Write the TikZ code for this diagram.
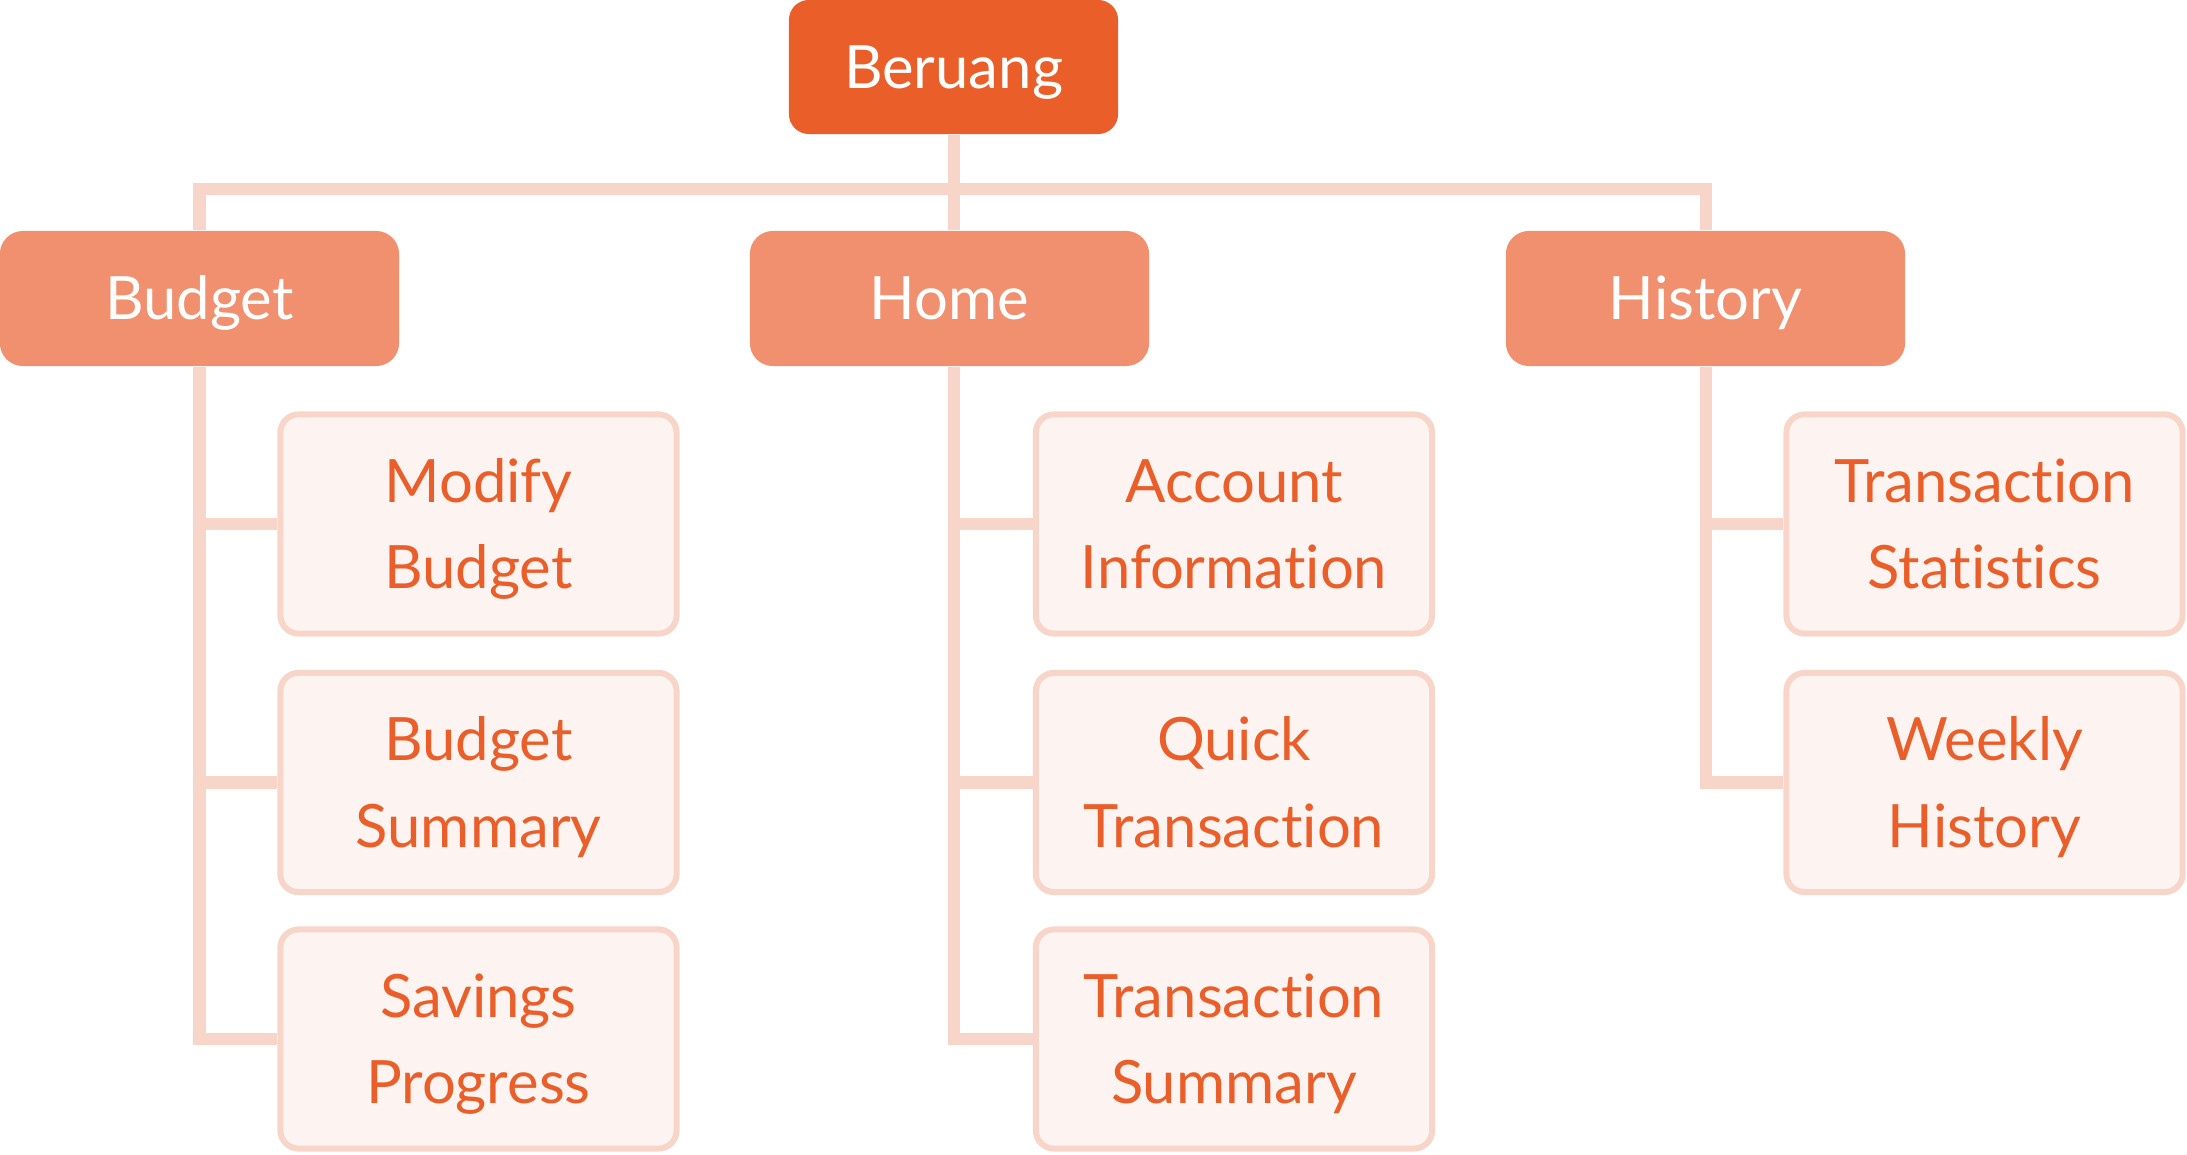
\documentclass[tikz,border=0pt]{standalone}
\usepackage{fontspec}
\setmainfont{Lato}[RawFeature={-liga;-dlig}]
\definecolor{rootc}{HTML}{EA5E29}
\definecolor{midc}{HTML}{F1906E}
\definecolor{linec}{HTML}{F8D5C9}
\definecolor{leaff}{HTML}{FDF3F0}
\tikzset{
  boxfont/.style={font=\fontsize{17}{24.7}\selectfont},
  rootbox/.style={boxfont, fill=rootc, rounded corners=0.2cm, minimum width=3.29cm, minimum height=1.34cm, inner sep=0pt, text=white, text height=12.2pt, text depth=0pt},
  midbox/.style={boxfont, fill=midc, rounded corners=0.23cm, minimum width=3.99cm, minimum height=1.35cm, inner sep=0pt, text=white, text height=12.2pt, text depth=0pt},
  leafbox/.style={boxfont, fill=leaff, draw=linec, line width=0.06cm, rounded corners=0.18cm, minimum width=3.96cm, minimum height=2.19cm, inner sep=0pt, align=center, text=rootc, text height=36.9pt, text depth=0pt},
  conn/.style={draw=linec, line width=0.12cm, line join=miter},
}
\begin{document}
\begin{tikzpicture}[x=0.01cm, y=-0.01cm]
\useasboundingbox (0,0) rectangle (2187,1155);
% connector anchors
\coordinate (bus) at (953.5,189);
% nodes
\node[rootbox] (root) at (953.5,67) {Beruang};
\node[midbox] (budget) at (199.5,298.5) {Budget};
\node[midbox] (home) at (949.5,298.5) {Home};
\node[midbox] (history) at (1705.5,298.5) {History};
\node[leafbox] (b1) at (478.5,524) {Modify\\Budget};
\node[leafbox] (b2) at (478.5,782.5) {Budget\\Summary};
\node[leafbox] (b3) at (478.5,1039) {Savings\\Progress};
\node[leafbox] (h1) at (1234,524) {Account\\Information};
\node[leafbox] (h2) at (1234,782.5) {Quick\\Transaction};
\node[leafbox] (h3) at (1234,1039) {Transaction\\Summary};
\node[leafbox] (s1) at (1984.5,524) {Transaction\\Statistics};
\node[leafbox] (s2) at (1984.5,782.5) {Weekly\\History};
% lines
\path[conn] (root.south) -- (root.south |- home.north);
\path[conn] (budget.north) |- (bus) -| (history.north);
\path[conn] (budget.south) |- (b1.west);
\path[conn] (budget.south) |- (b2.west);
\path[conn] (budget.south) |- (b3.west);
\path[conn] (home.south -| root.south) |- (h1.west);
\path[conn] (home.south -| root.south) |- (h2.west);
\path[conn] (home.south -| root.south) |- (h3.west);
\path[conn] (history.south) |- (s1.west);
\path[conn] (history.south) |- (s2.west);
\end{tikzpicture}
\end{document}
